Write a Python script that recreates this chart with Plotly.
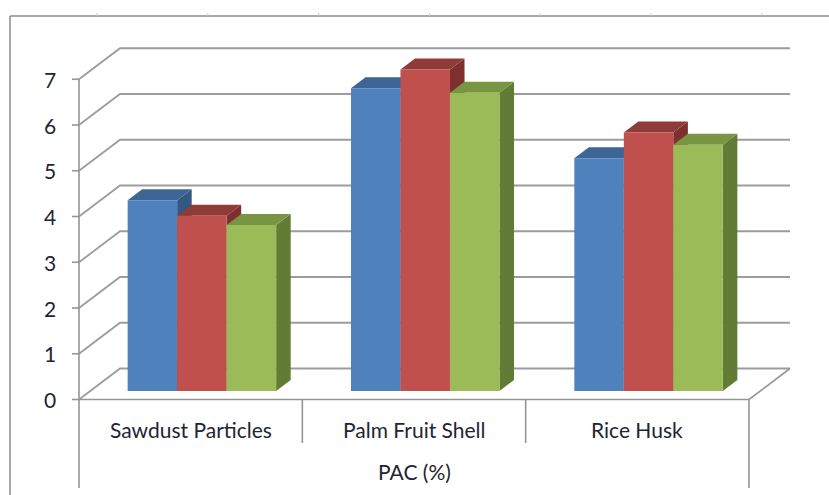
import plotly.graph_objects as go

# ---- data ----
categories = ["Sawdust Particles", "Palm Fruit Shell", "Rice Husk"]
group_title = "PAC (%)"
series_names = ["Series 1", "Series 2", "Series 3"]
series1 = [4.17, 6.62, 5.09]
series2 = [3.83, 7.03, 5.65]
series3 = [3.63, 6.52, 5.38]
y_ticks = [0, 1, 2, 3, 4, 5, 6, 7]

# ---- styling ----
front_colors = ["#4F81BD", "#C0504D", "#9BBB59"]
top_colors = ["#3D6696", "#8F3B38", "#789542"]
side_colors = ["#335883", "#7D302E", "#637C35"]
grid_color = "#9C9C9C"
axis_color = "#959595"
text_color = "#222433"
FONT = "Lato"
FONT_SIZE = 21

# ---- page / projection geometry ----
W, H = 829, 495
X0, CAT_PX = 79.0, 223.33      # left corner of the floor and width of one category
Y0, UNIT_PX = 399.5, 45.75     # baseline and height of one value unit
WALL_DX, WALL_DY = 41.0, 31.0  # oblique offset of the back wall
T_FRONT, T_BACK = 0.274, 0.629  # depth range occupied by the columns
BAR_PX = 49.5


def px_x(px):
    return (px - X0) / CAT_PX


def px_v(py):
    return (Y0 - py) / UNIT_PX


DX = WALL_DX / CAT_PX
DV = WALL_DY / UNIT_PX
BAR_W = BAR_PX / CAT_PX
n_cat = len(categories)

fig = go.Figure()

# walls: gridlines run along the left wall and across the back wall
gx, gy = [], []
for k in y_ticks:
    gx += [0, DX, n_cat + DX, None]
    gy += [k, k + DV, k + DV, None]
fig.add_trace(go.Scatter(x=gx, y=gy, mode="lines", hoverinfo="skip",
                         line=dict(color=grid_color, width=1.8)))

# floor edges, value axis, tick marks and category dividers
ax, ay = [], []
ax += [0, n_cat, n_cat + DX, None]
ay += [0, 0, DV, None]
ax += [0, 0, None]
ay += [max(y_ticks), px_v(488), None]
for k in y_ticks:
    ax += [px_x(72), 0, None]
    ay += [k, k, None]
for c in range(1, n_cat):
    ax += [c, c, None]
    ay += [0, px_v(443), None]
ax += [n_cat, n_cat, None]
ay += [0, px_v(488), None]
fig.add_trace(go.Scatter(x=ax, y=ay, mode="lines", hoverinfo="skip",
                         line=dict(color=axis_color, width=1.6)))

# columns: side, top and front face of each box, drawn left to right
all_series = [series1, series2, series3]
base_dx = T_FRONT * DX
base_dv = T_FRONT * DV
depth_dx = (T_BACK - T_FRONT) * DX
depth_dv = (T_BACK - T_FRONT) * DV


def poly(xs, ys, color, name):
    fig.add_trace(go.Scatter(x=xs + [xs[0]], y=ys + [ys[0]], mode="lines",
                             fill="toself", fillcolor=color, name=name,
                             line=dict(width=0, color=color), hoverinfo="skip"))


for c in range(n_cat):
    for s, vals in enumerate(all_series):
        v = vals[c]
        left = c + 0.5 - 1.5 * BAR_W + s * BAR_W + base_dx
        right = left + BAR_W
        b = base_dv
        t = base_dv + v
        # right side face
        poly([right, right, right + depth_dx, right + depth_dx],
             [b, t, t + depth_dv, b + depth_dv], side_colors[s], series_names[s])
        # top face
        poly([left, right, right + depth_dx, left + depth_dx],
             [t, t, t + depth_dv, t + depth_dv], top_colors[s], series_names[s])
        # front face
        poly([left, right, right, left], [b, b, t, t],
             front_colors[s], series_names[s])

annotations = []
for k in y_ticks:
    annotations.append(dict(x=px_x(58), y=k, text=str(k), showarrow=False,
                            xanchor="right", yanchor="middle",
                            font=dict(family=FONT, size=FONT_SIZE, color=text_color)))
for c, name in enumerate(categories):
    annotations.append(dict(x=c + 0.5, y=px_v(429), text=name, showarrow=False,
                            xanchor="center", yanchor="middle",
                            font=dict(family=FONT, size=FONT_SIZE, color=text_color)))
annotations.append(dict(x=n_cat / 2, y=px_v(471), text=group_title, showarrow=False,
                        xanchor="center", yanchor="middle",
                        font=dict(family=FONT, size=FONT_SIZE, color=text_color)))

# chart area frame
shapes = [
    dict(type="line", xref="paper", yref="paper", x0=10 / W, x1=1.0,
         y0=1 - 16 / H, y1=1 - 16 / H, line=dict(color="#8C8C8C", width=1.5)),
    dict(type="line", xref="paper", yref="paper", x0=10 / W, x1=10 / W,
         y0=1 - 16 / H, y1=0, line=dict(color="#8C8C8C", width=1.5)),
]
for i in range(7):
    xp = (97 + 110.8 * i) / W
    shapes.append(dict(type="line", xref="paper", yref="paper", x0=xp, x1=xp,
                       y0=1 - 13 / H, y1=1 - 16 / H,
                       line=dict(color="#C8C8C8", width=1)))

fig.update_layout(
    width=W, height=H, autosize=False,
    margin=dict(l=0, r=0, t=0, b=0, pad=0),
    paper_bgcolor="white", plot_bgcolor="white",
    showlegend=False,
    xaxis=dict(range=[px_x(0), px_x(W)], visible=False, fixedrange=True),
    yaxis=dict(range=[px_v(H), px_v(0)], visible=False, fixedrange=True),
    annotations=annotations,
    shapes=shapes,
)

fig.write_html("out.html")
